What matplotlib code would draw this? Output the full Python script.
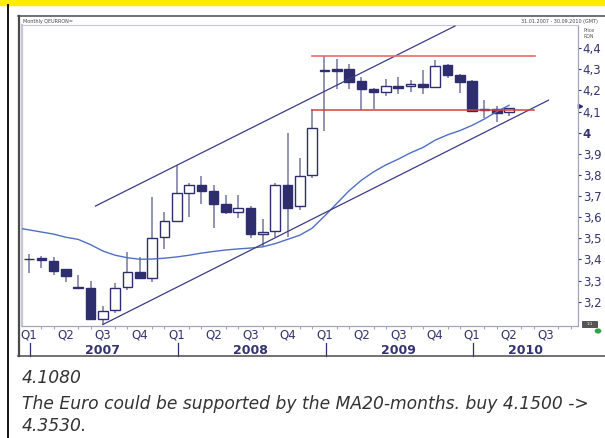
import numpy as np
import matplotlib
matplotlib.use("Agg")
import matplotlib.pyplot as plt
from matplotlib.lines import Line2D
from matplotlib.patches import Rectangle, Circle
from matplotlib.transforms import blended_transform_factory

W, H = 605, 438

# ── monthly EUR/RON candles, Jan 2007 .. Apr 2010 ────────────────────────────
opens  = [3.400, 3.405, 3.393, 3.355, 3.265, 3.267, 3.119, 3.159, 3.269, 3.340,
          3.312, 3.504, 3.583, 3.716, 3.754, 3.726, 3.664, 3.627, 3.646, 3.520,
          3.533, 3.751, 3.655, 3.799, 4.292, 4.300, 4.300, 4.245, 4.206, 4.194,
          4.221, 4.220, 4.232, 4.218, 4.320, 4.273, 4.245, 4.112, 4.113, 4.097]
highs  = [3.426, 3.417, 3.410, 3.355, 3.327, 3.296, 3.178, 3.288, 3.434, 3.410,
          3.696, 3.625, 3.849, 3.763, 3.794, 3.751, 3.707, 3.704, 3.653, 3.591,
          3.763, 3.997, 3.881, 4.112, 4.362, 4.351, 4.326, 4.264, 4.213, 4.253,
          4.264, 4.248, 4.295, 4.342, 4.323, 4.279, 4.249, 4.155, 4.127, 4.116]
lows   = [3.335, 3.359, 3.326, 3.294, 3.260, 3.112, 3.092, 3.147, 3.256, 3.312,
          3.293, 3.449, 3.575, 3.601, 3.661, 3.547, 3.617, 3.594, 3.503, 3.460,
          3.505, 3.507, 3.636, 3.785, 4.009, 4.208, 4.208, 4.108, 4.112, 4.174,
          4.182, 4.194, 4.185, 4.213, 4.257, 4.187, 4.096, 4.072, 4.052, 4.080]
closes = [3.400, 3.398, 3.347, 3.320, 3.265, 3.120, 3.154, 3.264, 3.340, 3.312,
          3.500, 3.583, 3.716, 3.754, 3.724, 3.664, 3.627, 3.646, 3.519, 3.529,
          3.754, 3.646, 3.793, 4.022, 4.292, 4.292, 4.241, 4.206, 4.194, 4.220,
          4.213, 4.232, 4.218, 4.315, 4.271, 4.241, 4.104, 4.108, 4.093, 4.116]

# MA20 (months), Dec 2006 .. Apr 2010
ma20 = [3.550, 3.540, 3.530, 3.520, 3.505, 3.495, 3.470, 3.440, 3.420, 3.408,
        3.401, 3.402, 3.406, 3.412, 3.420, 3.430, 3.438, 3.445, 3.450, 3.454,
        3.460, 3.475, 3.495, 3.515, 3.548, 3.605, 3.665, 3.725, 3.775, 3.815,
        3.848, 3.875, 3.905, 3.930, 3.965, 3.990, 4.010, 4.035, 4.065, 4.100,
        4.130]

# trend lines (month index, price)
chan_up_x,  chan_up_y  = [5.4, 34.6], [3.653, 4.505]
chan_lo_x,  chan_lo_y  = [6.0, 42.2], [3.092, 4.154]
resist_x,   resist_y   = [23.0, 41.1], [4.365, 4.365]
support_x,  support_y  = [23.0, 41.0], [4.108, 4.108]

quarters = ["Q1", "Q2", "Q3", "Q4"] * 3 + ["Q1", "Q2", "Q3"]
years    = ["2007", "2008", "2009", "2010"]
yticks   = [3.2, 3.3, 3.4, 3.5, 3.6, 3.7, 3.8, 3.9, 4.0, 4.1, 4.2, 4.3, 4.4]
ytlabels = ["3,2", "3,3", "3,4", "3,5", "3,6", "3,7", "3,8", "3,9", "4",
            "4,1", "4,2", "4,3", "4,4"]

NAVY  = "#2e2e6e"
WICK  = "#8a8aac"
LINE  = "#3b3b86"
MA_C  = "#4f6fc4"
TXT   = "#33336f"
FRAME = "#c4c4d4"


def fx(x):
    return x / W


def fy(y):
    return 1 - y / H


fig = plt.figure(figsize=(W / 100, H / 100), dpi=100)
fig.patch.set_facecolor("white")

# ── page decoration ──────────────────────────────────────────────────────────
fig.patches.append(Rectangle((0, fy(5)), 1, 5 / H, color="#ffed00",
                             transform=fig.transFigure))
fig.lines.append(Line2D([fx(7.5), fx(7.5)], [fy(5), 0], color="black",
                        lw=1.3, transform=fig.transFigure))
box = dict(color="#4a4a4a", transform=fig.transFigure)
fig.lines.append(Line2D([fx(18.5), fx(18.5)], [fy(16), fy(356)], lw=1.6, **box))
fig.lines.append(Line2D([fx(18), fx(605)], [fy(16), fy(16)], lw=1.1, **box))
fig.lines.append(Line2D([fx(18), fx(605)], [fy(356), fy(356)], lw=1.1, **box))

# ── main axes ────────────────────────────────────────────────────────────────
ax = fig.add_axes([fx(22), fy(326), (578 - 22) / W, (326 - 25) / H])
n = len(closes)
x = np.arange(n)
o = np.array(opens); c = np.array(closes)
hi = np.array(highs); lo = np.array(lows)
up = c >= o
bot = np.minimum(o, c)
hgt = np.maximum(np.abs(c - o), 0.004)

ax.vlines(x, lo, hi, color=WICK, lw=1.3, zorder=2)
ax.bar(x[up], hgt[up], bottom=bot[up], width=0.78, facecolor="white",
       edgecolor=NAVY, lw=1.0, zorder=3)
ax.bar(x[~up], hgt[~up], bottom=bot[~up], width=0.78, facecolor=NAVY,
       edgecolor=NAVY, lw=1.0, zorder=3)

ax.plot(np.arange(-1, n), ma20, color=MA_C, lw=1.0, zorder=4)
ax.plot(chan_up_x, chan_up_y, color=LINE, lw=0.9, zorder=4)
ax.plot(chan_lo_x, chan_lo_y, color=LINE, lw=0.9, zorder=4)
ax.plot(resist_x, resist_y, color="#ee6a6a", lw=1.2, zorder=4)
ax.plot(support_x, support_y, color="#e03a3a", lw=1.1, zorder=4)

ax.set_xlim(-0.57, 44.6)
ax.set_ylim(3.085, 4.51)

for s in ("left", "top"):
    ax.spines[s].set_color(FRAME)
ax.spines["left"].set_linewidth(1.6)
ax.spines["top"].set_linewidth(0.8)
for s in ("right", "bottom"):
    ax.spines[s].set_color("#a4a4bc")
    ax.spines[s].set_linewidth(0.9)

ax.yaxis.tick_right()
ax.set_yticks(yticks)
ax.set_yticklabels(ytlabels)
ax.tick_params(axis="y", direction="out", length=2.5, width=0.8,
               color=NAVY, labelcolor=TXT, labelsize=8.5, pad=1)
for lab in ax.get_yticklabels():
    if lab.get_text() == "4":
        lab.set_fontweight("bold")

ax.set_xticks(np.arange(0, 45, 3))
ax.set_xticklabels(quarters)
ax.set_xticks(np.arange(0, 45), minor=True)
ax.tick_params(axis="x", which="major", length=0, pad=2,
               labelcolor=TXT, labelsize=8.5)
ax.tick_params(axis="x", which="minor", length=2, width=0.8, color="#a4a4bc")

trans = blended_transform_factory(ax.transData, ax.transAxes)
for i, yr in enumerate(years):
    ax.plot([12 * i + 0.1, 12 * i + 0.1], [-0.057, -0.1], color=NAVY, lw=0.9,
            transform=trans, clip_on=False)
    xc = 12 * i + 6 if i < 3 else (36 + 44.6) / 2
    ax.text(xc, -0.083, yr, transform=trans, ha="center", va="center",
            fontsize=9, fontweight="bold", color=TXT)

# current price marker
ax.plot([1.004], [closes[-1] + 0.01], marker=">", ms=3, color=NAVY,
        transform=blended_transform_factory(ax.transAxes, ax.transData),
        clip_on=False)

# ── header / small labels ────────────────────────────────────────────────────
fig.text(fx(23), fy(22), "Monthly QEURRON=", fontsize=3.5, color="#444",
         va="center")
fig.text(fx(598), fy(22), "31.01.2007 - 30.09.2010 (GMT)", fontsize=3.5,
         color="#444", va="center", ha="right")
fig.text(fx(583), fy(30), "Price", fontsize=3.3, color="#555", va="center")
fig.text(fx(583), fy(36), "RON", fontsize=3.3, color="#555", va="center")
fig.patches.append(Rectangle((fx(582), fy(327)), 15 / W, 6 / H,
                             facecolor="#555", edgecolor="#333", lw=0.5,
                             transform=fig.transFigure))
fig.text(fx(589.5), fy(324), "1:1", fontsize=3, color="white",
         ha="center", va="center")
fig.patches.append(Circle((fx(598), fy(331)), 2.6 / W, color="#2ca24a",
                          transform=fig.transFigure))

# ── comment below the chart ──────────────────────────────────────────────────
txt = dict(fontsize=12.3, style="italic", color="#333333", va="baseline")
fig.text(fx(22), fy(383), "4.1080", **txt)
fig.text(fx(22), fy(409),
         "The Euro could be supported by the MA20-months. buy 4.1500 ->", **txt)
fig.text(fx(22), fy(431), "4.3530.", **txt)

fig.savefig("out.png", dpi=100)
